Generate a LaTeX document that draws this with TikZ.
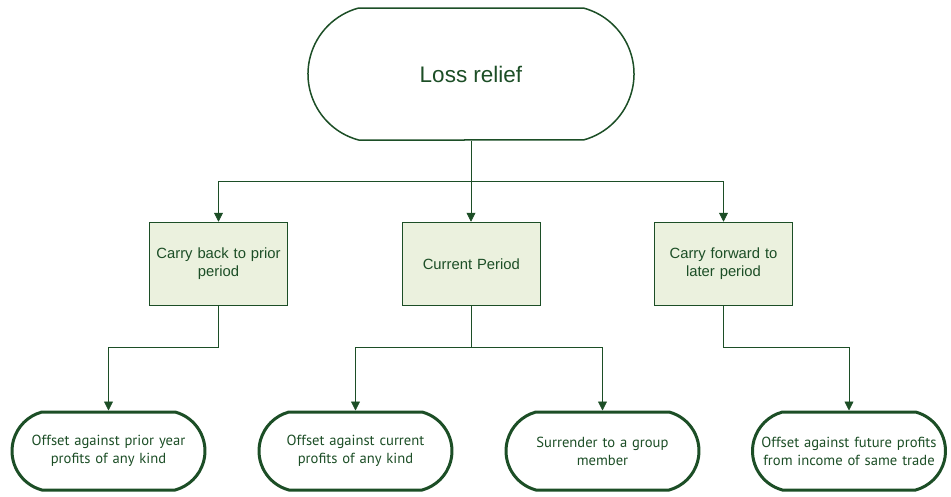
\documentclass[tikz,border=0pt]{standalone}
\usepackage{fontspec}
\setmainfont{Liberation Sans}
\newfontfamily\ovalfont{PT Sans}
\usetikzlibrary{arrows.meta,shapes.misc}
\definecolor{leafgreen}{RGB}{28,78,38}
\definecolor{boxfill}{RGB}{235,241,222}

\begin{document}
\begin{tikzpicture}[x=1pt,y=1pt,
	every node/.style={text=leafgreen,align=center,inner sep=2pt},
	rootoval/.style={rounded rectangle,rounded rectangle arc length=150,draw=leafgreen,line width=1.5pt,minimum width=330pt,minimum height=132pt,font=\fontsize{22.5}{26}\selectfont},
	period/.style={draw=leafgreen,fill=boxfill,line width=1.5pt,minimum width=138pt,minimum height=83pt,text width=134pt,font=\fontsize{14.8}{18}\selectfont},
	use/.style={rounded rectangle,rounded rectangle arc length=150,draw=leafgreen,line width=3pt,minimum width=197pt,minimum height=78pt,text width=180pt,font=\ovalfont\fontsize{14.6}{18}\selectfont},
	link/.style={draw=leafgreen,line width=0.8pt,-{Triangle[length=9pt,width=9pt]}}]
	\useasboundingbox (0,0) rectangle (951,-496);
	\node[rootoval] (loss) at (471,-74) {Loss relief};
	\node[period] (back) at (218.5,-264) {Carry back to prior\\period};
	\node[period] (cur) at (471.3,-264) {Current Period};
	\node[period] (fwd) at (723.5,-264) {Carry forward to\\later period};
	\node[use] (prior) at (108.5,-451) {Offset against prior year\\profits of any kind};
	\node[use] (now) at (355.5,-451) {Offset against current\\profits of any kind};
	\node[use] (group) at (602.5,-451) {Surrender to a group\\member};
	\node[use] (future) at (849,-451) {Offset against future profits\\from income of same trade};
	\coordinate (split) at (471,-181);
	\coordinate (row) at (0,-347);
	% top level
	\draw[link] (loss.south) -- (split) -| (back.north);
	\draw[link] (split) -- (split |- cur.north);
	\draw[link] (split) -| (fwd.north);
	% second level
	\draw[link] (back.south) -- (back.south |- row) -| (prior.north);
	\draw[link] (cur.south) -- (cur.south |- row) -| (now.north);
	\draw[link] (cur.south |- row) -| (group.north);
	\draw[link] (fwd.south) -- (fwd.south |- row) -| (future.north);
\end{tikzpicture}
\end{document}
